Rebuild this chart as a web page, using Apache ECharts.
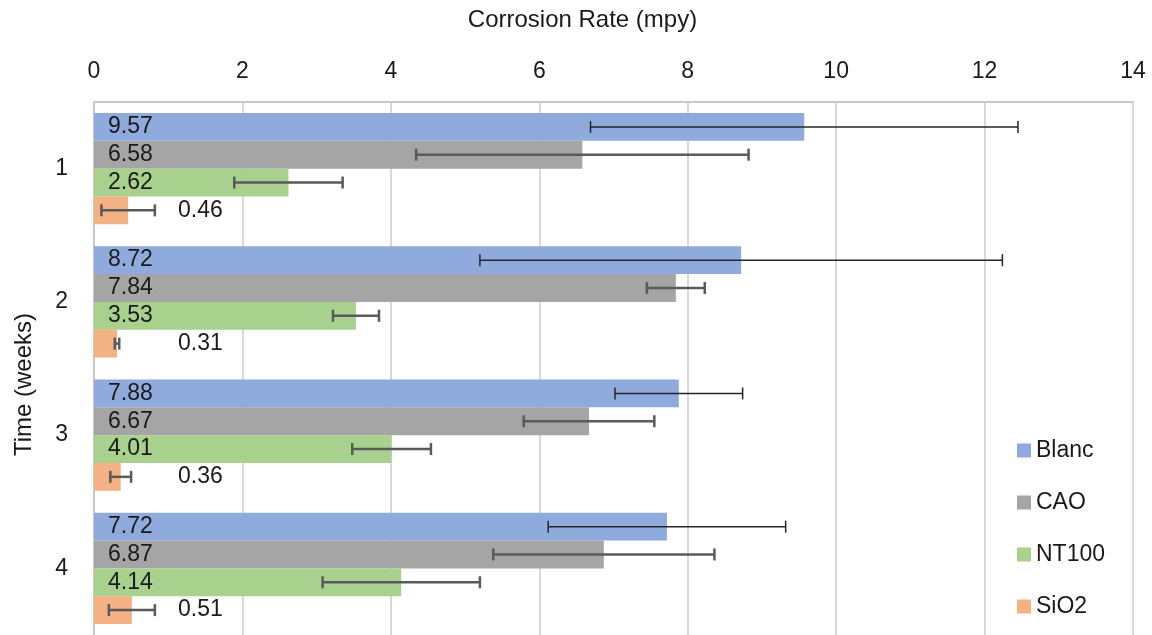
<!DOCTYPE html>
<html><head><meta charset="utf-8">
<script src="https://cdn.jsdelivr.net/npm/echarts@6/dist/echarts.min.js"></script>
<style>html,body{margin:0;padding:0;background:#fff}#c{width:1152px;height:635px}</style>
</head><body><div id="c"></div>
<script>
const weeks = ['1', '2', '3', '4'];
const seriesNames = ['Blanc', 'CAO', 'NT100', 'SiO2'];
const blanc = [9.57, 8.72, 7.88, 7.72];
const cao = [6.58, 7.84, 6.67, 6.87];
const nt100 = [2.62, 3.53, 4.01, 4.14];
const sio2 = [0.46, 0.31, 0.36, 0.51];
const blancErr = [2.88, 3.52, 0.86, 1.60];
const caoErr = [2.24, 0.39, 0.88, 1.49];
const nt100Err = [0.73, 0.31, 0.53, 1.06];
const sio2Err = [0.36, 0.03, 0.14, 0.31];
const xMin = 0, xMax = 14, xStep = 2;

const colors = ['#8FAADC', '#A5A5A5', '#A9D18E', '#F4B183'];
const GAP = 0.165;
const FONT = 'Liberation Sans, Arial, sans-serif';

const values = [blanc, cao, nt100, sio2];
const errs = [blancErr, caoErr, nt100Err, sio2Err];

function barSeries(i) {
  return {
    type: 'bar', name: seriesNames[i], data: values[i],
    barGap: '0%', barCategoryGap: (GAP * 100) + '%',
    itemStyle: { color: colors[i] },
    label: {
      show: true, position: 'insideLeft', distance: i === 3 ? 84 : 14,
      color: '#1a1a1a', fontSize: 23, fontFamily: FONT,
      formatter: p => p.value.toFixed(2)
    },
    z: 2
  };
}

function errSeries(i) {
  const thin = i === 0;
  const col = thin ? '#262626' : '#5a5a5a';
  const lw = thin ? 1.5 : 2.5;
  return {
    type: 'custom', name: seriesNames[i] + ' err',
    data: values[i].map((v, k) => [k, v - errs[i][k], v + errs[i][k]]),
    encode: { y: 0, x: [1, 2] },
    z: 10, silent: true,
    renderItem(params, api) {
      const cat = api.value(0);
      const p1 = api.coord([api.value(1), cat]);
      const p2 = api.coord([api.value(2), cat]);
      const band = api.size([0, 1])[1];
      const groupW = band * (1 - GAP);
      const barW = groupW / 4;
      const y = p1[1] - groupW / 2 + (i + 0.5) * barW;
      const h = 6;
      const st = { stroke: col, lineWidth: lw };
      return { type: 'group', children: [
        { type: 'line', shape: { x1: p1[0], y1: y, x2: p2[0], y2: y }, style: st },
        { type: 'line', shape: { x1: p1[0], y1: y - h, x2: p1[0], y2: y + h }, style: st },
        { type: 'line', shape: { x1: p2[0], y1: y - h, x2: p2[0], y2: y + h }, style: st }
      ]};
    }
  };
}

const chart = echarts.init(document.getElementById('c'));
chart.setOption({
  animation: false,
  textStyle: { fontFamily: FONT },
  grid: { left: 94, right: 19, top: 102, height: 536 },
  legend: {
    data: seriesNames, orient: 'vertical', left: 1017, top: 439, padding: 0,
    icon: 'rect', itemWidth: 14, itemHeight: 14, itemGap: 29,
    textStyle: { fontSize: 23, color: '#1a1a1a', fontFamily: FONT }
  },
  xAxis: {
    type: 'value', position: 'top', min: xMin, max: xMax, interval: xStep,
    name: 'Corrosion Rate (mpy)', nameLocation: 'middle', nameGap: 70,
    nameTextStyle: { fontSize: 24, color: '#1a1a1a', fontFamily: FONT, padding: [0, 62, 0, 0] },
    axisLabel: { fontSize: 23, color: '#1a1a1a', margin: 19, fontFamily: FONT },
    axisLine: { show: true, lineStyle: { color: '#c8c8c8', width: 2 } },
    axisTick: { show: false },
    splitLine: { lineStyle: { color: '#d9d9d9', width: 2 } }
  },
  yAxis: {
    type: 'category', data: weeks, inverse: true,
    name: 'Time (weeks)', nameLocation: 'middle', nameGap: 58,
    nameTextStyle: { fontSize: 24, color: '#1a1a1a', fontFamily: FONT, padding: [0, 32, 0, 0] },
    axisLabel: { fontSize: 23, color: '#1a1a1a', margin: 26, fontFamily: FONT },
    axisLine: { show: true, lineStyle: { color: '#c8c8c8', width: 2 } },
    axisTick: { show: false }
  },
  series: [0, 1, 2, 3].map(barSeries).concat([0, 1, 2, 3].map(errSeries))
});
</script></body></html>
